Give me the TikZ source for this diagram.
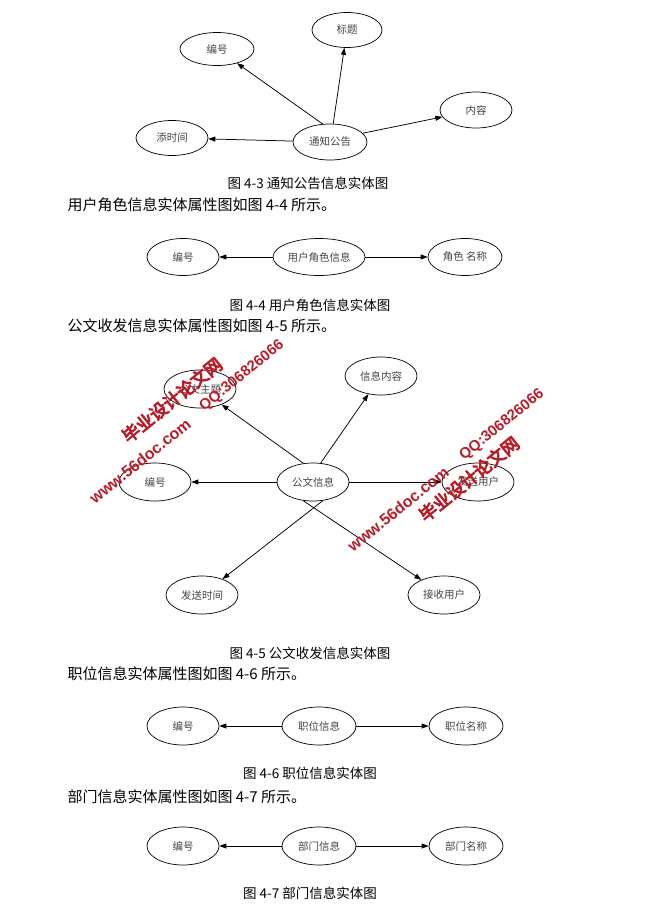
\documentclass[tikz,border=0pt]{standalone}
\usepackage{fontspec}
\setmainfont{Noto Sans CJK SC}
\newfontfamily\wmcjk{Noto Sans CJK SC}[FakeBold=5]
\newfontfamily\wmlat{Liberation Sans}
\usetikzlibrary{shapes.geometric,arrows.meta}
\definecolor{wmred}{RGB}{185,30,40}
\definecolor{lbl}{RGB}{70,70,70}
\begin{document}
\begin{tikzpicture}[x=1pt,y=-1pt,
  attr/.style={ellipse,draw=black,line width=0.7pt,inner sep=0pt,minimum width=72pt,minimum height=37pt,
    font=\fontsize{10.5}{12}\selectfont,text=lbl},
  conn/.style={line width=0.75pt,-{Triangle[length=7pt,width=5pt]}},
  figcap/.style={font=\fontsize{13.5}{16}\selectfont,anchor=center},
  bodytext/.style={font=\fontsize{15}{18}\selectfont,anchor=west},
  wmz/.style={text=wmred,rotate=39,font=\wmcjk\fontsize{17.5}{19}\selectfont,inner sep=0pt},
  wml/.style={text=wmred,rotate=39,font=\wmlat\bfseries\fontsize{16}{18}\selectfont,inner sep=0pt},
  wmq/.style={text=wmred,rotate=39,font=\wmlat\bfseries\fontsize{15}{17}\selectfont,inner sep=0pt}]
\useasboundingbox[fill=white] (0,0) rectangle (649,908);
% ---- 4-3
\node[attr,minimum width=74pt,minimum height=33pt] (a1) at (217,49) {编号};
\node[attr,minimum width=70pt,minimum height=35pt] (a2) at (347,30) {标题};
\node[attr,minimum width=72pt,minimum height=36pt] (a3) at (476,110) {内容};
\node[attr,minimum width=72pt,minimum height=35pt] (a4) at (172,138) {添时间};
\node[attr,minimum width=74pt,minimum height=36pt] (a0) at (330,142) {通知公告};
\draw[conn] (a0.112) -- (a1);
\draw[conn] (a0.80) -- (a2);
\draw[conn] (a0.15) -- (a3);
\draw[conn] (a0) -- (a4);
\node[figcap] (c3) at (308,183) {图 4-3 通知公告信息实体图};
\node[bodytext] (t4) at (64,205) {用户角色信息实体属性图如图 4-4 所示。};
% ---- 4-4
\node[attr] (b1) at (183,257) {编号};
\node[attr,minimum width=92pt] (b0) at (319,257) {用户角色信息};
\node[attr,minimum width=74pt] (b2) at (465,257) {角色 名称};
\draw[conn] (b0) -- (b1);
\draw[conn] (b0) -- (b2);
\node[figcap] (c4) at (310,305) {图 4-4 用户角色信息实体图};
\node[bodytext] (t5) at (64,326) {公文收发信息实体属性图如图 4-5 所示。};
% ---- 4-5
\node[attr,minimum height=38pt] (g1) at (200,389) {公文主题};
\node[attr,minimum height=38pt] (g2) at (381,376) {信息内容};
\node[attr,minimum height=38pt] (g3) at (155,482) {编号};
\node[attr,minimum height=38pt] (g0) at (313,482) {公文信息};
\node[attr,minimum height=38pt] (g4) at (478,482) {发送用户};
\node[attr,minimum height=38pt] (g5) at (202,595) {发送时间};
\node[attr,minimum height=38pt] (g6) at (444,595) {接收用户};
\draw[conn] (g0.117) -- (g1);
\draw[conn] (g0.68) -- (g2);
\draw[conn] (g0) -- (g3);
\draw[conn] (g0) -- (g4);
\draw[conn] (g0.-62) -- (g5);
\draw[conn] (g0.-118) -- (g6);
\node[figcap] (c5) at (310,653) {图 4-5 公文收发信息实体图};
\node[bodytext] (t6) at (64,674) {职位信息实体属性图如图 4-6 所示。};
% ---- 4-6
\node[attr,minimum height=38pt] (p1) at (183,726) {编号};
\node[attr,minimum width=74pt,minimum height=38pt] (p0) at (319,726) {职位信息};
\node[attr,minimum width=74pt,minimum height=38pt] (p2) at (466,726) {职位名称};
\draw[conn] (p0) -- (p1);
\draw[conn] (p0) -- (p2);
\node[figcap] (c6) at (310,773) {图 4-6 职位信息实体图};
\node[bodytext] (t7) at (64,797) {部门信息实体属性图如图 4-7 所示。};
% ---- 4-7
\node[attr,minimum height=38pt] (d1) at (183,846) {编号};
\node[attr,minimum width=74pt,minimum height=38pt] (d0) at (319,846) {部门信息};
\node[attr,minimum width=74pt,minimum height=38pt] (d2) at (466,846) {部门名称};
\draw[conn] (d0) -- (d1);
\draw[conn] (d0) -- (d2);
\node[figcap] (c7) at (310,893) {图 4-7 部门信息实体图};
% ---- watermarks
\node[wml] (w1) at (140,461) {www.56doc.com};
\node[wmz] (w2) at (172,400) {毕业设计论文网};
\node[wmq] (w3) at (242,376) {QQ:306826066};
\node[wml] (w4) at (398,509) {www.56doc.com};
\node[wmz] (w5) at (469,479) {毕业设计论文网};
\node[wmq] (w6) at (502,425) {QQ:306826066};
\end{tikzpicture}
\end{document}
